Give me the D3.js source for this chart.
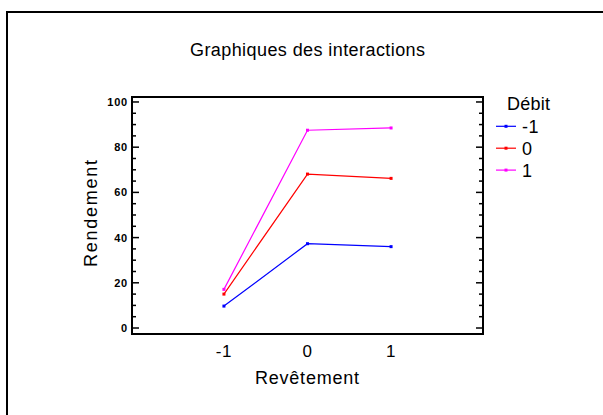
<!DOCTYPE html>
<head>
	<meta charset="utf-8">
	<script src="https://d3js.org/d3.v7.min.js"></script>
	<style>
		body { margin: 0; background: #fff; }
		text { font-family: "Liberation Sans", Arial, sans-serif; }
	</style>
</head>
<body>
	<div id="chart"></div>
	<script>

	// data
	var levels = [-1, 0, 1];            // Revêtement
	var debit = ["-1", "0", "1"];       // series
	var rendMoins1 = [9.7, 37.3, 36.0];
	var rendZero = [15.0, 68.1, 66.2];
	var rendPlus1 = [17.1, 87.5, 88.5];
	var yTicks = [0, 20, 40, 60, 80, 100];
	var colors = ["#0000ff", "#ff0000", "#ff00ff"];

	var width = 603, height = 415;

	var svg = d3.select("#chart").append("svg")
	  .attr("width", width)
	  .attr("height", height);

	// outer frame (runs off right/bottom)
	svg.append("rect")
		.attr("x", 7).attr("y", 12)
		.attr("width", 620).attr("height", 420)
		.attr("fill", "none")
		.attr("stroke", "black")
		.attr("stroke-width", 2);

	var pLeft = 132, pRight = 483, pTop = 97, pBottom = 334;

	var x = d3.scaleLinear().domain([-2.1, 2.1]).range([pLeft, pRight]);
	var y = d3.scaleLinear().domain([-2.65, 102.2]).range([pBottom, pTop]);

	// title
	svg.append("text")
		.attr("x", 307.5).attr("y", 56)
		.attr("text-anchor", "middle")
		.attr("textLength", 235).attr("lengthAdjust", "spacing")
		.style("font-size", "18px")
		.text("Graphiques des interactions");

	// y axis ticks (left and right), minor every 5
	var minor = d3.range(0, 101, 5);
	var g = svg.append("g");
	g.selectAll(".tl").data(minor).join("line")
		.attr("x1", pLeft).attr("x2", d => pLeft + (d % 20 == 0 ? 7 : 4))
		.attr("y1", d => y(d)).attr("y2", d => y(d))
		.attr("stroke", "black").attr("stroke-width", 1.5);
	g.selectAll(".tr").data(minor).join("line")
		.attr("x1", pRight).attr("x2", d => pRight - (d % 20 == 0 ? 7 : 4))
		.attr("y1", d => y(d)).attr("y2", d => y(d))
		.attr("stroke", "black").attr("stroke-width", 1.5);

	svg.append("g").selectAll("text").data(yTicks).join("text")
		.attr("x", pLeft - 4)
		.attr("y", d => y(d) + 4)
		.attr("text-anchor", "end")
		.style("font-size", "11px")
		.style("font-weight", "bold")
		.style("letter-spacing", "0.8px")
		.text(d => d);

	// x tick labels
	svg.append("g").selectAll("text").data(levels).join("text")
		.attr("x", d => x(d))
		.attr("y", 357)
		.attr("text-anchor", "middle")
		.style("font-size", "17px")
		.style("letter-spacing", "0.5px")
		.text(d => d);

	// axis titles
	svg.append("text")
		.attr("x", 307).attr("y", 384)
		.attr("text-anchor", "middle")
		.attr("textLength", 104).attr("lengthAdjust", "spacing")
		.style("font-size", "18px")
		.text("Revêtement");
	svg.append("text")
		.attr("transform", "translate(97,213.5) rotate(-90)")
		.attr("text-anchor", "middle")
		.attr("textLength", 107).attr("lengthAdjust", "spacing")
		.style("font-size", "18px")
		.text("Rendement");

	// lines
	var series = [rendMoins1, rendZero, rendPlus1];
	var line = d3.line().x((d, i) => x(levels[i])).y(d => y(d));
	series.forEach(function(s, k) {
		svg.append("path")
			.datum(s)
			.attr("d", line)
			.attr("fill", "none")
			.attr("stroke", colors[k])
			.attr("stroke-width", 1.2);
		svg.append("g").selectAll("rect").data(s).join("rect")
			.attr("x", (d, i) => x(levels[i]) - 1.5)
			.attr("y", d => y(d) - 1.5)
			.attr("width", 3).attr("height", 3)
			.attr("fill", colors[k]);
	});

	// plot frame
	svg.append("rect")
		.attr("x", pLeft).attr("y", pTop)
		.attr("width", pRight - pLeft).attr("height", pBottom - pTop)
		.attr("fill", "none")
		.attr("stroke", "black")
		.attr("stroke-width", 2);

	// legend
	svg.append("text")
		.attr("x", 507).attr("y", 110)
		.attr("textLength", 43).attr("lengthAdjust", "spacing")
		.style("font-size", "18px")
		.text("Débit");
	var leg = svg.append("g").selectAll("g").data(debit).join("g")
		.attr("transform", (d, i) => "translate(0," + (126.3 + i * 21.9) + ")");
	leg.append("line")
		.attr("x1", 496).attr("x2", 516)
		.attr("stroke", (d, i) => colors[i]).attr("stroke-width", 1.2);
	leg.append("rect")
		.attr("x", 504.5).attr("y", -1.5).attr("width", 3).attr("height", 3)
		.attr("fill", (d, i) => colors[i]);
	leg.append("text")
		.attr("x", 522).attr("y", 6.5)
		.style("font-size", "18px")
		.style("letter-spacing", "0.5px")
		.text(d => d);
</script>
</body>
